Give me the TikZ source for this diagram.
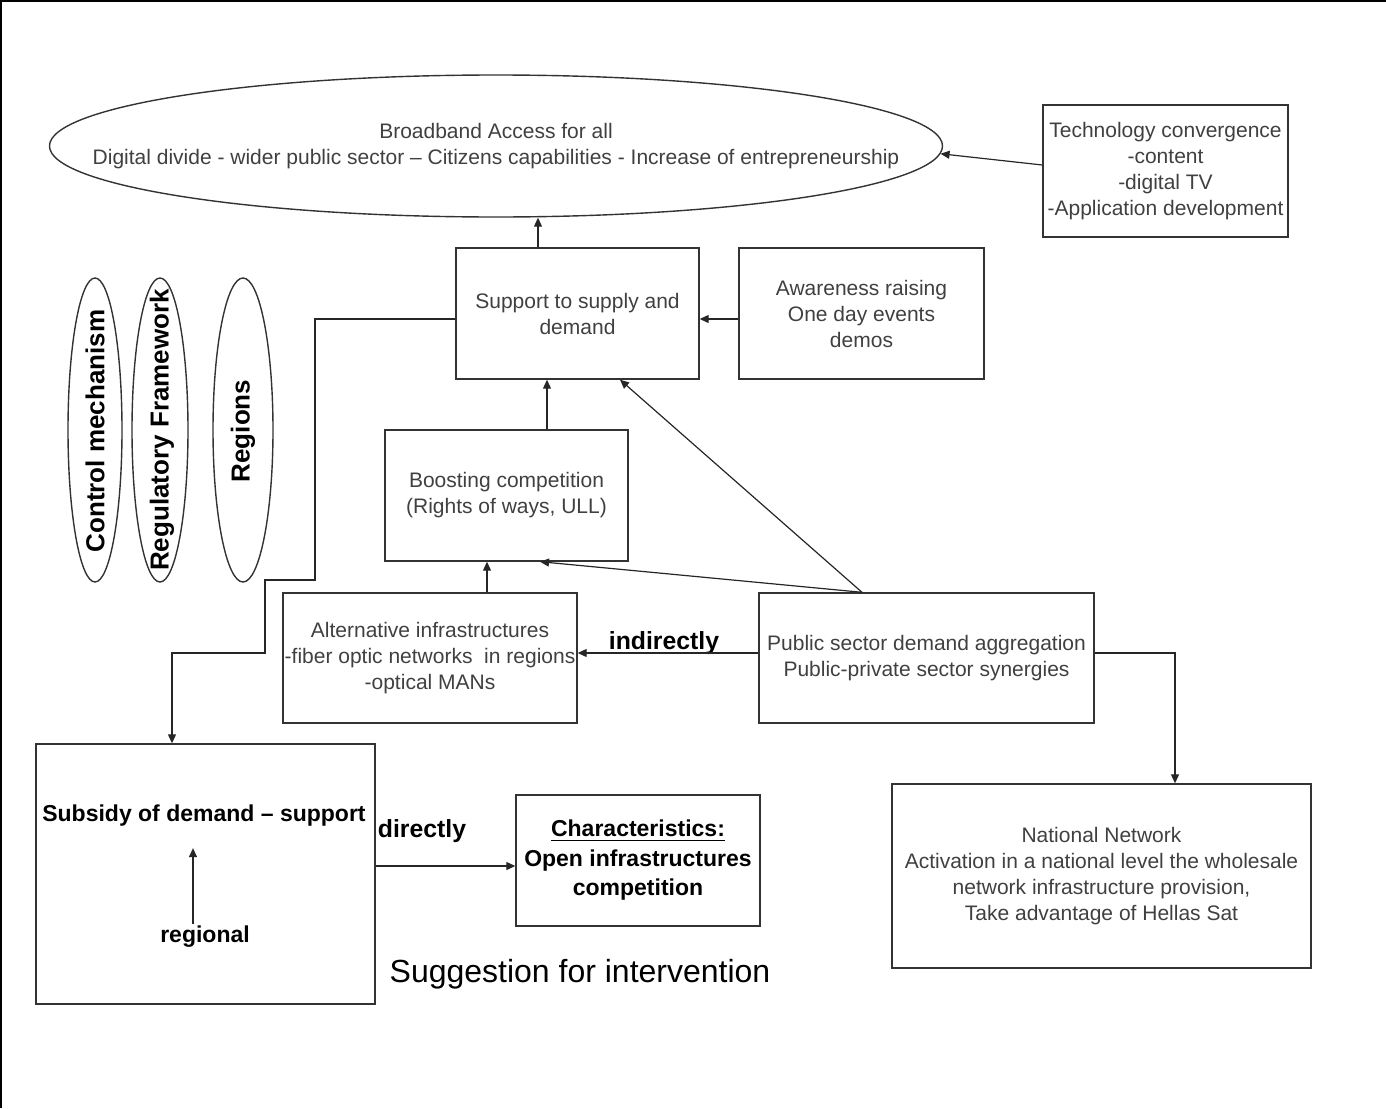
\documentclass[tikz,border=0pt]{standalone}
\usepackage{fontspec}
\setmainfont{Liberation Sans}
\usetikzlibrary{arrows.meta,shapes.geometric}

\begin{document}
\begin{tikzpicture}[x=0.5pt,y=-0.5pt,
  box/.style={draw=black!80, line width=0.7pt, inner sep=0pt, align=center, text=black!75, font=\fontsize{10.5}{13}\selectfont},
  oval/.style={ellipse, draw=black!80, line width=0.7pt, inner sep=0pt},
  side/.style={rotate=90, font=\bfseries\fontsize{13}{15}\selectfont},
  bold/.style={inner sep=1pt, align=center, font=\bfseries\fontsize{11.5}{14.75}\selectfont},
  arr/.style={-{Triangle[length=4.5pt,width=4pt]}, black!85, line width=0.6pt}]
\useasboundingbox (0,0) rectangle (1386,1108);

% frame
\draw[line width=1pt] (1386,1) -- (1,1) -- (1,1108);

% goal
\node[oval, minimum width=446.5pt, minimum height=71pt] (goal) at (496,146) {};
\node[box, draw=none] (goaltext) at (496,146) {Broadband Access for all\\Digital divide - wider public sector -- Citizens capabilities - Increase of entrepreneurship};

% side ovals
\node[oval, minimum width=27pt, minimum height=152pt] (ctrl) at (95,430) {};
\node[oval, minimum width=28pt, minimum height=152pt] (regul) at (160,430) {};
\node[oval, minimum width=30pt, minimum height=152pt] (regio) at (243,430) {};
\node[side] (ctrltext) at (95,431) {Control mechanism};
\node[side] (regultext) at (162,430) {Regulatory Framework};
\node[side] (regiotext) at (243,431) {Regions};

% boxes
\node[box, minimum width=122.5pt, minimum height=66pt] (tech) at (1165.5,171) {Technology convergence\\-content\\-digital TV\\-Application development};
\node[box, minimum width=121.5pt, minimum height=65.5pt] (support) at (577.5,313.5) {Support to supply and\\demand};
\node[box, minimum width=122.5pt, minimum height=65.5pt] (aware) at (861.5,313.5) {Awareness raising\\One day events\\demos};
\node[box, minimum width=121.5pt, minimum height=65.5pt] (boost) at (506.5,495.5) {Boosting competition\\(Rights of ways, ULL)};
\node[box, minimum width=147pt, minimum height=65pt] (alt) at (430,658) {Alternative infrastructures\\-fiber optic networks\ \ in regions\\-optical MANs};
\node[box, minimum width=167.5pt, minimum height=65pt] (public) at (926.5,658) {Public sector demand aggregation\\Public-private sector synergies};
\node[box, minimum width=209.5pt, minimum height=92pt] (national) at (1101.5,876) {National Network\\Activation in a national level the wholesale\\network infrastructure provision,\\Take advantage of Hellas Sat};
\node[box, minimum width=169.5pt, minimum height=130pt] (subs) at (205.5,874) {};
\node[box, bold, text=black, minimum width=122pt, minimum height=65.5pt] (char) at (638,860.5) {\underline{Characteristics:}\\Open infrastructures\\competition};

% labels
\node[bold] (substext) at (204,816) {Subsidy of demand -- support};
\node[bold] (regional) at (205,937) {regional};
\node[bold, font=\bfseries\fontsize{12.4}{15}\selectfont] (indir) at (664,643) {indirectly};
\node[bold, font=\bfseries\fontsize{12.4}{15}\selectfont] (dir) at (422,831) {directly};
\node[font=\fontsize{16}{19}\selectfont] (sugg) at (580,974) {Suggestion for intervention};

% connectors
\coordinate (s1) at ([xshift=-19.75pt]support.north);
\draw[arr] (s1) -- (s1 |- goal.south);
\draw[arr] ([yshift=3pt]tech.west) -- (goal.-1.5);
\draw[arr] ([yshift=-2.75pt]aware.west) -- ([yshift=-2.75pt]support.east);
\coordinate (b1) at ([xshift=20.25pt]boost.north);
\draw[arr] (b1) -- (b1 |- support.south);
\coordinate (a1) at ([xshift=28.5pt]alt.north);
\draw[arr] (a1) -- (a1 |- boost.south);
\draw[arr] ([yshift=2.5pt]public.west) -- ([yshift=2.5pt]alt.east);
\coordinate (p1) at ([xshift=-32.25pt]public.north);
\draw[arr] (p1) -- ([xshift=16.75pt]boost.south);
\draw[arr] (p1) -- ([xshift=21.25pt]support.south);
\draw[arr] ([yshift=2.5pt]public.east) -| ([xshift=36.75pt]national.north);

% long path down to subsidy
\coordinate (bend1) at (315,580);
\coordinate (bend2) at (265,653);
\draw[arr] ([yshift=-2.75pt]support.west) -| (bend1) -| (bend2) -| ([xshift=-16.75pt]subs.north);

\coordinate (d1) at ([yshift=4pt]subs.east);
\draw[arr] (d1) -- (d1 -| char.west);
\draw[arr] ([xshift=-6pt]regional.north) -- ([xshift=-5.5pt,yshift=-9.5pt]substext.south);

\end{tikzpicture}
\end{document}
